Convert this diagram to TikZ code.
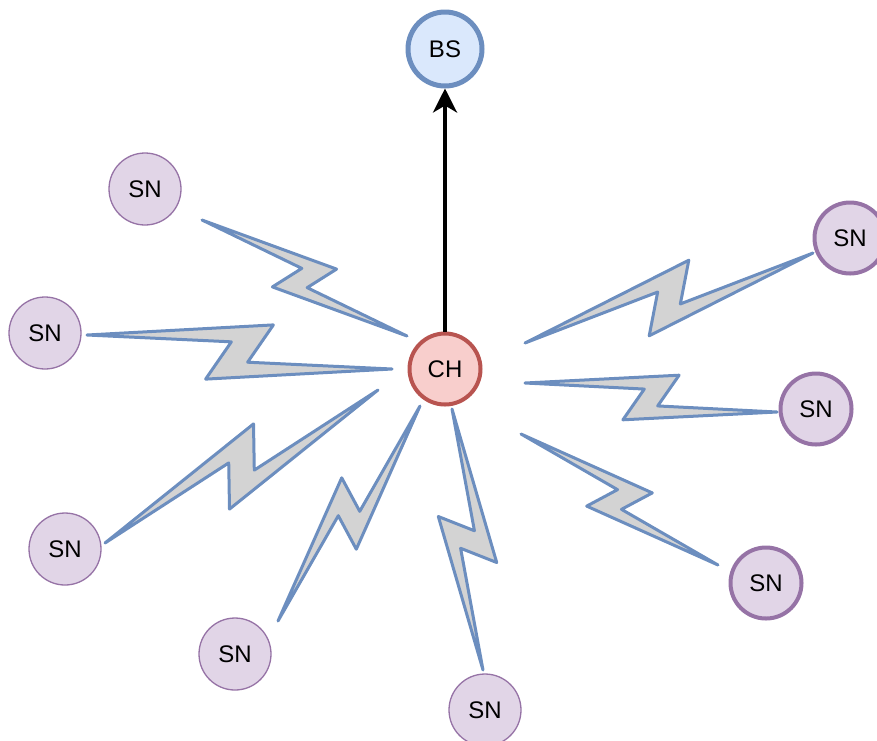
\documentclass[tikz,border=0pt]{standalone}
\usepackage{fontspec}
\setmainfont{Liberation Sans}
\usetikzlibrary{calc,arrows.meta}

\definecolor{snfill}{HTML}{E1D5E7}
\definecolor{snline}{HTML}{9673A6}
\definecolor{chfill}{HTML}{F8CECC}
\definecolor{chline}{HTML}{B85450}
\definecolor{bsfill}{HTML}{DAE8FC}
\definecolor{bsline}{HTML}{6C8EBF}
\definecolor{boltfill}{HTML}{D3D3D3}

\tikzset{
	sn/.style={circle, draw=snline, fill=snfill, line width=1.3pt, minimum size=72pt, inner sep=0pt, font=\fontsize{24}{27}\selectfont},
	snbold/.style={sn, line width=4pt, minimum size=71pt},
	ch/.style={sn, draw=chline, fill=chfill, line width=4pt, minimum size=71pt},
	bs/.style={sn, draw=bsline, fill=bsfill, line width=5pt, minimum size=74pt},
	bolt/.style={draw=bsline, fill=boltfill, line width=3pt, line join=round},
	uplink/.style={line width=4pt, -{Stealth[length=24pt, width=24pt, inset=7pt]}}
}

% zigzag radio link between two free ends
\newcommand{\bolt}[2]{%
	\draw[bolt] (#1) -- ($(#1)!0.6!(#2)!0.25!90:(#2)$) -- ($(#1)!0.53!(#2)!0.064!-90:(#2)$)
		-- (#2) -- ($(#1)!0.4!(#2)!0.1667!-90:(#2)$) -- ($(#1)!0.47!(#2)!0.0566!90:(#2)$) -- cycle;}

\begin{document}
\begin{tikzpicture}[x=1pt, y=-1pt]
		\useasboundingbox (0,0) rectangle (877,740);

		\coordinate (l1a) at (202,220); \coordinate (l1b) at (407,336);
		\coordinate (l2a) at (87,335);  \coordinate (l2b) at (392,369);
		\coordinate (l3a) at (105,543); \coordinate (l3b) at (378,390);
		\coordinate (l4a) at (278,621); \coordinate (l4b) at (420,406);
		\coordinate (l5a) at (483,670); \coordinate (l5b) at (452,409);
		\coordinate (l6a) at (813,253); \coordinate (l6b) at (525,343);
		\coordinate (l7a) at (777,412); \coordinate (l7b) at (525,383);
		\coordinate (l8a) at (718,565); \coordinate (l8b) at (521,434);

		\bolt{l1a}{l1b}
		\bolt{l2a}{l2b}
		\bolt{l3a}{l3b}
		\bolt{l4a}{l4b}
		\bolt{l5a}{l5b}
		\bolt{l6a}{l6b}
		\bolt{l7a}{l7b}
		\bolt{l8a}{l8b}

		\node[sn] (sn1) at (145,189) {SN};
		\node[sn] (sn2) at (45,333) {SN};
		\node[sn] (sn3) at (65,549) {SN};
		\node[sn] (sn4) at (235,654) {SN};
		\node[sn] (sn5) at (485,710) {SN};
		\node[snbold] (sn6) at (850,238) {SN};
		\node[snbold] (sn7) at (816,409) {SN};
		\node[snbold] (sn8) at (766,583) {SN};

		\node[ch] (ch) at (445,369) {CH};
		\node[bs] (bs) at (445,49) {BS};
		\draw[uplink] (ch) -- (bs);
	\end{tikzpicture}
\end{document}
